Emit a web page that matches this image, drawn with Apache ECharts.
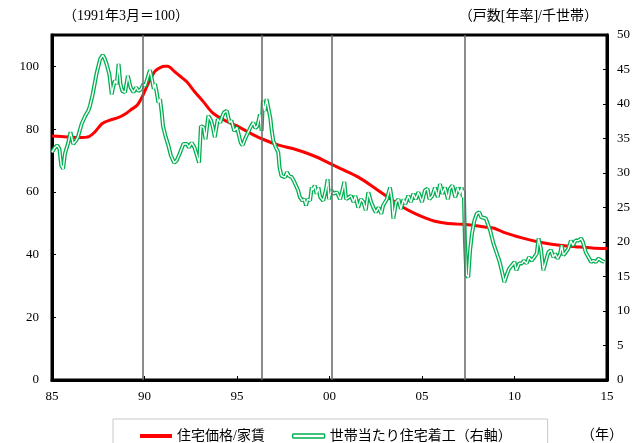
<!DOCTYPE html>
<html><head><meta charset="utf-8">
<script src="https://cdn.jsdelivr.net/npm/echarts@6/dist/echarts.min.js"></script>
<style>html,body{margin:0;padding:0;background:#fff}#c{width:634px;height:443px}</style>
</head><body><div id="c"></div>
<script>
// ---- data ----
const priceYears = [1985.0,1985.5,1986.0,1986.5,1987.0,1987.3,1987.7,1988.1,1988.6,1989.0,1989.3,1989.6,1989.85,1990.2,1990.57,1990.85,1991.1,1991.25,1991.65,1992.0,1992.3,1992.7,1993.2,1993.7,1994.4,1995.0,1995.5,1996.3,1997.3,1998.0,1998.6,1999.3,1999.76,2000.6,2001.56,2002.5,2003.4,2004.0,2004.6,2005.2,2005.7,2006.3,2006.96,2007.5,2008.4,2008.9,2009.5,2010.4,2011.3,2012.0,2012.7,2013.5,2014.2,2015.0];
const priceValues = [77.8,77.6,77.4,77.3,77.6,79.0,81.7,82.8,83.7,85.0,86.3,87.6,90.0,94.5,98.5,99.6,100,100,98.2,96.5,95.0,92.0,88.6,85.1,82.6,81.0,79.4,77.0,74.8,73.8,72.7,71.1,69.8,67.4,64.7,61.0,57.3,55.0,53.1,51.6,50.6,50.0,49.7,49.5,48.8,48.4,46.9,45.3,44.0,43.3,42.8,42.4,42.1,41.9];

const startsYears = [1985.0,1985.16,1985.28,1985.4,1985.5,1985.6,1985.7,1985.88,1986.0,1986.15,1986.3,1986.4,1986.6,1986.8,1986.96,1987.05,1987.2,1987.4,1987.6,1987.74,1987.83,1987.95,1988.1,1988.23,1988.3,1988.4,1988.5,1988.6,1988.7,1988.8,1988.95,1989.1,1989.25,1989.4,1989.55,1989.66,1989.8,1989.94,1990.03,1990.2,1990.3,1990.4,1990.5,1990.57,1990.66,1990.75,1990.84,1990.93,1991.0,1991.15,1991.29,1991.43,1991.6,1991.74,1991.9,1992.1,1992.3,1992.4,1992.55,1992.7,1992.8,1992.95,1993.05,1993.2,1993.3,1993.45,1993.6,1993.7,1993.8,1993.96,1994.1,1994.17,1994.3,1994.45,1994.6,1994.7,1994.85,1995.0,1995.2,1995.3,1995.43,1995.6,1995.76,1995.88,1996.0,1996.1,1996.24,1996.33,1996.4,1996.5,1996.6,1996.7,1996.8,1996.88,1996.96,1997.1,1997.23,1997.3,1997.4,1997.6,1997.7,1997.8,1997.96,1998.1,1998.3,1998.4,1998.53,1998.64,1998.73,1998.82,1998.95,1999.04,1999.1,1999.2,1999.3,1999.4,1999.5,1999.66,1999.8,1999.9,1999.97,2000.1,2000.2,2000.4,2000.57,2000.7,2000.8,2000.9,2001.0,2001.16,2001.3,2001.4,2001.55,2001.7,2001.83,2001.96,2002.1,2002.25,2002.37,2002.5,2002.65,2002.8,2002.9,2003.1,2003.27,2003.37,2003.45,2003.6,2003.73,2003.86,2004.0,2004.1,2004.26,2004.4,2004.53,2004.66,2004.8,2005.0,2005.16,2005.3,2005.4,2005.56,2005.7,2005.85,2005.97,2006.1,2006.24,2006.4,2006.5,2006.64,2006.8,2006.93,2007.05,2007.15,2007.2,2007.26,2007.32,2007.4,2007.5,2007.6,2007.7,2007.83,2007.96,2008.1,2008.2,2008.3,2008.45,2008.55,2008.68,2008.86,2009.05,2009.2,2009.35,2009.45,2009.6,2009.7,2009.85,2010.0,2010.1,2010.25,2010.4,2010.5,2010.66,2010.78,2010.93,2011.07,2011.2,2011.3,2011.43,2011.56,2011.7,2011.83,2011.97,2012.1,2012.2,2012.33,2012.46,2012.55,2012.64,2012.77,2012.9,2013.05,2013.16,2013.3,2013.44,2013.6,2013.7,2013.85,2014.0,2014.14,2014.27,2014.4,2014.54,2014.7,2014.86];
const startsValues = [33.0,33.7,34.0,33.5,31.1,30.6,32.8,34.4,35.9,34.2,34.7,35.2,37.1,38.3,39.0,39.7,41.4,44.3,46.5,47.1,46.7,45.8,44.3,41.4,42.4,43.4,42.9,45.8,42.9,41.9,41.7,44.1,42.4,41.7,42.4,41.9,42.1,42.9,42.6,44.1,44.9,43.6,42.2,42.9,41.7,40.2,40.7,38.8,36.8,35.2,34.0,32.5,31.5,31.8,32.8,34.2,34.2,33.7,34.4,33.7,33.5,31.5,36.8,36.6,34.9,38.3,37.6,36.6,35.2,37.8,37.3,38.0,38.8,39.0,37.3,37.6,36.1,36.6,34.4,34.0,34.9,35.9,36.8,37.3,36.5,36.8,38.5,36.1,40.5,39.0,40.7,40.5,38.0,36.1,34.7,33.7,33.0,30.8,29.6,29.4,30.1,29.6,29.4,28.7,27.5,26.5,26.0,26.2,25.3,26.2,26.0,27.9,27.5,28.2,27.0,27.9,26.5,26.0,27.5,29.1,26.2,27.5,27.0,27.2,26.2,27.5,28.7,26.2,26.0,26.7,25.8,26.7,25.0,26.2,25.8,24.6,27.2,25.8,25.0,24.3,25.0,24.1,25.3,26.2,27.9,26.2,23.4,25.8,26.2,24.8,26.2,25.5,26.7,25.8,27.0,26.2,27.2,25.8,27.5,27.7,26.2,26.7,27.9,26.5,28.4,27.0,27.9,26.2,27.7,28.2,26.5,27.9,27.0,27.9,26.5,27.5,20.2,15.2,14.9,18.8,21.2,23.1,24.1,24.3,23.6,23.8,23.4,23.6,21.7,19.8,18.3,17.1,15.4,14.2,15.4,16.1,16.6,17.1,15.9,16.9,16.9,17.3,16.9,17.8,17.3,17.8,18.3,20.5,19.0,15.9,17.3,18.5,18.8,17.8,18.3,17.6,18.3,19.5,18.1,18.5,19.0,20.2,19.5,20.2,20.2,20.5,20.0,18.5,17.8,17.1,17.3,17.1,17.6,17.3,17.1];

const eventYears = [1989.9, 1996.35, 2000.1, 2007.3];
const seriesNames = ['住宅価格/家賃', '世帯当たり住宅着工（右軸）'];
const leftTitle = '（1991年3月＝100）';
const rightTitle = '（戸数[年率]/千世帯）';
const xUnit = '（年）';

// ---- chart ----
const FONT = "'Liberation Serif','Noto Sans CJK JP',serif";
const pricePairs = priceYears.map((y, i) => [y, priceValues[i]]);
const startsPairs = startsYears.map((y, i) => [y, startsValues[i]]);
const GREEN = '#00b050';

const chart = echarts.init(document.getElementById('c'), null, {renderer: 'canvas'});
chart.setOption({
  animation: false,
  backgroundColor: '#fff',
  textStyle: {fontFamily: FONT},
  grid: {left: 52, right: 27, top: 35, bottom: 63, show: true, borderColor: '#000', borderWidth: 3, containLabel: false},
  xAxis: {
    type: 'value', min: 1985, max: 2015, interval: 5,
    axisLine: {show: true, lineStyle: {color: '#000', width: 3}},
    axisTick: {show: true, inside: true, length: 4, lineStyle: {color: '#000', width: 1}},
    splitLine: {show: false},
    axisLabel: {margin: 10, fontSize: 13, color: '#000', fontFamily: FONT,
      formatter: v => String(Math.round(v) % 100).padStart(2, '0')}
  },
  yAxis: [
    {type: 'value', min: 0, max: 110, interval: 20, position: 'left',
     axisLine: {show: true, lineStyle: {color: '#000', width: 3}},
     axisTick: {show: true, inside: true, length: 4, lineStyle: {color: '#000', width: 1}},
     splitLine: {show: false},
     axisLabel: {margin: 13, fontSize: 13, color: '#000', fontFamily: FONT, showMaxLabel: false}},
    {type: 'value', min: 0, max: 50, interval: 5, position: 'right',
     axisLine: {show: true, lineStyle: {color: '#000', width: 3}},
     axisTick: {show: true, inside: true, length: 4, lineStyle: {color: '#000', width: 1}},
     splitLine: {show: false},
     axisLabel: {margin: 10, fontSize: 13, color: '#000', fontFamily: FONT}}
  ],
  legend: {
    left: 113, top: 419,
    padding: [10, 36, 12, 27],
    borderColor: '#c8c8c8', borderWidth: 1,
    itemGap: 27, itemWidth: 32, itemHeight: 4,
    textStyle: {fontSize: 14, color: '#000', fontFamily: FONT},
    data: [
      {name: seriesNames[0], icon: 'rect', itemStyle: {color: '#ff0000', borderWidth: 0}},
      {name: seriesNames[1], icon: 'roundRect', itemStyle: {color: '#fff', borderColor: GREEN, borderWidth: 1.5}}
    ]
  },
  graphic: [
    {type: 'text', left: 63, top: 9, style: {text: leftTitle, font: '14px ' + FONT, fill: '#000'}},
    {type: 'text', right: 36, top: 9, style: {text: rightTitle, font: '14px ' + FONT, fill: '#000'}},
    {type: 'text', left: 581, top: 428, style: {text: xUnit, font: '14px ' + FONT, fill: '#000'}}
  ],
  series: [
    {
      name: seriesNames[0], type: 'line', yAxisIndex: 0, data: pricePairs,
      showSymbol: false, smooth: 0.3, z: 2,
      lineStyle: {color: '#ff0000', width: 3}, itemStyle: {color: '#ff0000'},
      markLine: {
        silent: true, symbol: ['none', 'none'], label: {show: false},
        lineStyle: {color: '#666', width: 1.5, type: 'solid'},
        emphasis: {disabled: true},
        data: eventYears.map(x => ({xAxis: x}))
      }
    },
    {
      name: seriesNames[1], type: 'line', yAxisIndex: 1, data: startsPairs,
      showSymbol: false, z: 3,
      lineStyle: {color: GREEN, width: 4}, itemStyle: {color: GREEN}
    },
    {
      name: 'inner', type: 'line', yAxisIndex: 1, data: startsPairs,
      showSymbol: false, z: 4, silent: true,
      lineStyle: {color: '#fff', width: 1.4}, itemStyle: {color: '#fff'}
    }
  ]
});
</script>
</body></html>
